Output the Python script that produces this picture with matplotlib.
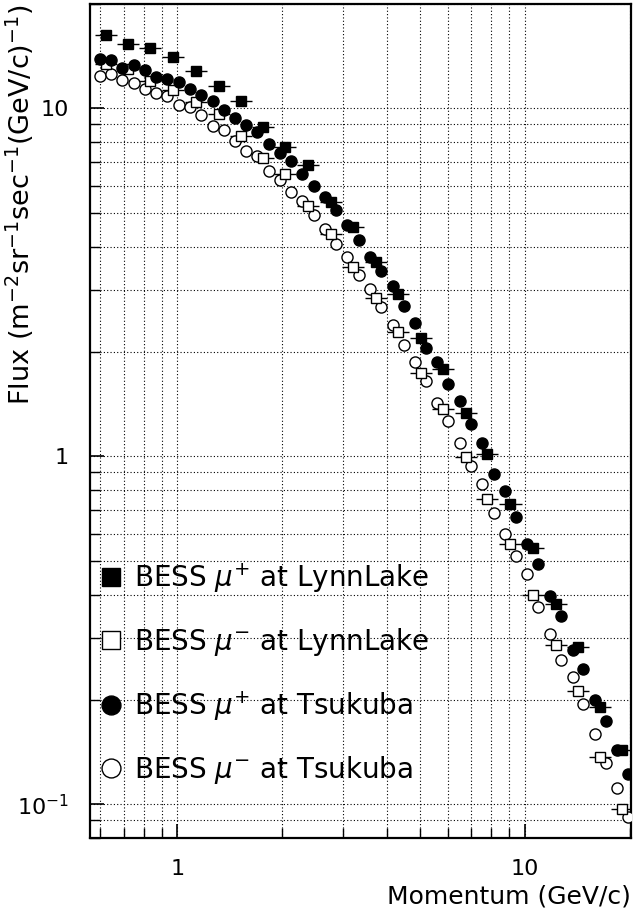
import matplotlib
matplotlib.use("Agg")
import matplotlib.pyplot as plt
import numpy as np

# BESS Lynn Lake (mu+ / mu-), same momentum bins
p_lynn = [0.624, 0.723, 0.836, 0.974, 1.129, 1.314, 1.525, 1.766, 2.046, 2.379,
          2.765, 3.206, 3.726, 4.319, 5.011, 5.820, 6.765, 7.790, 9.085, 10.54,
          12.25, 14.21, 16.47, 19.08]
mup_lynn = [16.21, 15.27, 14.90, 14.04, 12.80, 11.57, 10.49, 8.84, 7.74, 6.86,
            5.38, 4.56, 3.63, 2.934, 2.187, 1.786, 1.332, 1.018, 0.731, 0.544,
            0.377, 0.2826, 0.1909, 0.1434]
mum_lynn = [13.38, 13.00, 11.98, 11.30, 10.40, 9.61, 8.31, 7.22, 6.46, 5.26,
            4.36, 3.50, 2.858, 2.276, 1.735, 1.365, 0.9954, 0.756, 0.559, 0.3987,
            0.2873, 0.2117, 0.1371, 0.0972]

# BESS Tsukuba (mu+ / mu-)
p_tsu = [0.598, 0.642, 0.694, 0.750, 0.808, 0.869, 0.935, 1.008, 1.089, 1.171,
         1.263, 1.361, 1.464, 1.578, 1.693, 1.834, 1.972, 2.117, 2.287, 2.471,
         2.658, 2.858, 3.080, 3.325, 3.581, 3.851, 4.162, 4.485, 4.825, 5.190,
         5.594, 6.016, 6.502, 6.992, 7.536, 8.142, 8.759, 9.421, 10.15, 10.92,
         11.80, 12.69, 13.72, 14.72, 15.90, 17.11, 18.40, 19.83]
mup_tsu = [13.89, 13.74, 13.05, 13.29, 12.86, 12.30, 12.17, 11.90, 11.34, 10.90,
           10.49, 9.91, 9.38, 8.98, 8.56, 7.92, 7.46, 7.06, 6.49, 5.97,
           5.56, 5.12, 4.61, 4.19, 3.74, 3.40, 3.08, 2.710, 2.415, 2.053,
           1.866, 1.618, 1.442, 1.242, 1.095, 0.892, 0.795, 0.669, 0.561, 0.490,
           0.396, 0.349, 0.277, 0.2454, 0.2000, 0.1736, 0.1434, 0.1220]
mum_tsu = [12.38, 12.58, 12.09, 11.82, 11.39, 11.07, 10.83, 10.20, 10.09, 9.55,
           8.88, 8.68, 8.04, 7.55, 7.30, 6.63, 6.21, 5.77, 5.42, 4.95,
           4.51, 4.07, 3.75, 3.33, 3.03, 2.685, 2.390, 2.084, 1.866, 1.646,
           1.425, 1.265, 1.095, 0.940, 0.831, 0.689, 0.597, 0.516, 0.458, 0.369,
           0.308, 0.2604, 0.2321, 0.1947, 0.1589, 0.1314, 0.1117, 0.0919]

labels = [r'BESS $\mu^{+}$ at LynnLake', r'BESS $\mu^{-}$ at LynnLake',
          r'BESS $\mu^{+}$ at Tsukuba', r'BESS $\mu^{-}$ at Tsukuba']

x_ticks = [1, 10]
x_ticklabels = ['1', '10']
y_ticks = [0.1, 1, 10]
y_ticklabels = [r'$10^{-1}$', '1', '10']

lynn_half_bin = 0.0317  # half bin width in decades

fig = plt.figure(figsize=(6.33, 9.13), dpi=100)
ax = fig.add_axes([0.142, 0.082, 0.855, 0.914])
ax.set_xscale('log')
ax.set_yscale('log')

p = np.array(p_lynn)
xerr = [p - p / 10**lynn_half_bin, p * 10**lynn_half_bin - p]

h1 = ax.errorbar(p_lynn, mup_lynn, xerr=xerr, fmt='s', ms=7.5, mfc='black', mec='black',
                 ecolor='black', elinewidth=1, capsize=0, zorder=4)
h2 = ax.errorbar(p_lynn, mum_lynn, xerr=xerr, fmt='s', ms=7.5, mfc='white', mec='black',
                 mew=1, ecolor='black', elinewidth=1, capsize=0, zorder=3)
h3, = ax.plot(p_tsu, mup_tsu, 'o', ms=8, mfc='black', mec='black', zorder=5)
h4, = ax.plot(p_tsu, mum_tsu, 'o', ms=8, mfc='white', mec='black', mew=1, zorder=3)

ax.set_xlim(0.56, 20.2)
ax.set_ylim(0.08, 20)

ax.set_xticks(x_ticks)
ax.set_xticklabels(x_ticklabels)
ax.set_yticks(y_ticks)
ax.set_yticklabels(y_ticklabels)
ax.tick_params(which='both', direction='in', labelsize=16, top=False, right=False)
ax.tick_params(which='major', length=10, width=1.2)
ax.tick_params(axis='y', which='major', pad=15)
ax.tick_params(axis='x', which='major', pad=15)
ax.tick_params(which='minor', length=7, width=1.0)
ax.tick_params(axis='y', which='minor', labelleft=False)
ax.tick_params(axis='x', which='minor', labelbottom=False)

ax.grid(True, which='both', linestyle=(0, (1, 2)), color='black', linewidth=0.8)
for s in ax.spines.values():
    s.set_linewidth(1.6)

ax.set_xlabel('Momentum (GeV/c)', fontsize=18, loc='right')
ax.xaxis.set_label_coords(1.0, -0.055)
ax.set_ylabel(r'Flux (m$^{-2}$sr$^{-1}$sec$^{-1}$(GeV/c)$^{-1}$)', fontsize=19.5,
              loc='top')
ax.yaxis.set_label_coords(-0.1, 0.999)

# legend handles: only markers
lh = [h1[0], h2[0], h3, h4]
leg = ax.legend(lh, labels, loc='upper left', bbox_to_anchor=(-0.013, 0.352),
                frameon=False, fontsize=20, markerscale=1.7, handlelength=0.8,
                handletextpad=0.45, labelspacing=1.12, borderaxespad=0.2)

fig.savefig('out.png', dpi=100)
